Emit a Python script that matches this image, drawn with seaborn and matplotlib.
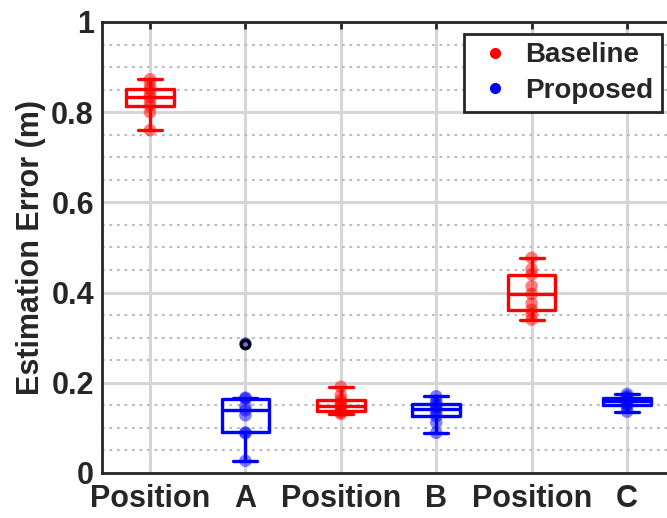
import numpy as np
import pandas as pd
import matplotlib
matplotlib.use("Agg")
import matplotlib.pyplot as plt
from matplotlib.lines import Line2D
from matplotlib.ticker import MultipleLocator
import seaborn as sns

# Tick labels under the six boxes (MATLAB style split labels)
tick_labels = ["Position", "A", "Position", "B", "Position", "C"]
groups = ["PA_base", "PA_prop", "PB_base", "PB_prop", "PC_base", "PC_prop"]
methods = ["Baseline", "Proposed", "Baseline", "Proposed", "Baseline", "Proposed"]

# Estimation errors (m)
base_a = [0.760, 0.800, 0.814, 0.825, 0.834, 0.842, 0.852, 0.862, 0.873]
prop_a = [0.027, 0.088, 0.090, 0.128, 0.139, 0.148, 0.165, 0.167, 0.287]
base_b = [0.131, 0.134, 0.138, 0.144, 0.149, 0.155, 0.162, 0.172, 0.191]
prop_b = [0.089, 0.112, 0.126, 0.135, 0.142, 0.147, 0.153, 0.160, 0.170]
base_c = [0.340, 0.352, 0.362, 0.376, 0.397, 0.414, 0.440, 0.452, 0.477]
prop_c = [0.136, 0.145, 0.151, 0.155, 0.159, 0.163, 0.167, 0.170, 0.175]

values = [base_a, prop_a, base_b, prop_b, base_c, prop_c]

rows = []
for g, m, vals in zip(groups, methods, values):
    for v in vals:
        rows.append({"group": g, "method": m, "error": v})
df = pd.DataFrame(rows)

palette = {"Baseline": "#ff0000", "Proposed": "#0000ff"}

sns.set_style("white")
plt.rcParams["font.family"] = ["Liberation Sans", "DejaVu Sans"]
plt.rcParams["font.weight"] = "bold"

fig = plt.figure(figsize=(6.67, 5.18), dpi=100)
ax = fig.add_axes([0.1534, 0.0869, 0.8582, 0.8707])

# Scatter of the raw points (no jitter, semi transparent)
sns.stripplot(data=df, x="group", y="error", hue="method", order=groups,
              palette=palette, jitter=False, size=9, alpha=0.5,
              linewidth=0, legend=False, ax=ax, zorder=3)

# Boxes on top
sns.boxplot(data=df, x="group", y="error", hue="method", order=groups,
            palette=palette, fill=False, width=0.5, linewidth=2.4, whis=1.5,
            legend=False, ax=ax, zorder=4)

for c in ax.containers:
    if hasattr(c, "fliers"):
        for fl in c.fliers:
            fl.set(marker="o", markerfacecolor="none", markeredgecolor="black",
                   markeredgewidth=2.5, markersize=6, zorder=5)

ax.set_xlim(-0.5, 5.5)
ax.set_ylim(0, 1)
ax.set_xticks(range(len(tick_labels)))
ax.set_xticklabels(tick_labels)
ax.set_yticks([0, 0.2, 0.4, 0.6, 0.8, 1.0])
ax.set_yticklabels(["0", "0.2", "0.4", "0.6", "0.8", "1"])
ax.yaxis.set_minor_locator(MultipleLocator(0.05))

ax.set_axisbelow(True)
ax.grid(which="major", axis="both", color="#d6d6d6", linewidth=2.2)
ax.grid(which="minor", axis="y", color="#bbbbbb", linewidth=1.5,
        linestyle=(0, (1.3, 2.3)))

for s in ax.spines.values():
    s.set_color("#262626")
    s.set_linewidth(2)
    s.set_visible(True)

ax.tick_params(which="major", direction="in", length=5, width=2,
               top=True, right=True, color="#262626",
               labelsize=22, pad=6, labelcolor="#262626")
ax.tick_params(which="minor", length=0)
ax.tick_params(axis="x", pad=8)

ax.set_xlabel("")
ax.set_ylabel("Estimation Error (m)", fontsize=22, fontweight="bold",
              color="#262626", labelpad=4)

handles = [Line2D([], [], marker="o", linestyle="none", markersize=7,
                  markerfacecolor=palette[m], markeredgecolor=palette[m])
           for m in ["Baseline", "Proposed"]]
leg = ax.legend(handles, ["Baseline", "Proposed"], loc="upper right",
                bbox_to_anchor=(662 / 667, 1 - 34 / 518),
                bbox_transform=fig.transFigure, borderaxespad=0,
                fancybox=False, framealpha=1, edgecolor="#262626",
                prop={"size": 20, "weight": "bold"},
                handlelength=1.6, handletextpad=0.3, borderpad=0.3,
                labelspacing=0.35)
leg.get_frame().set_linewidth(2)

fig.savefig("out.png", dpi=100)
